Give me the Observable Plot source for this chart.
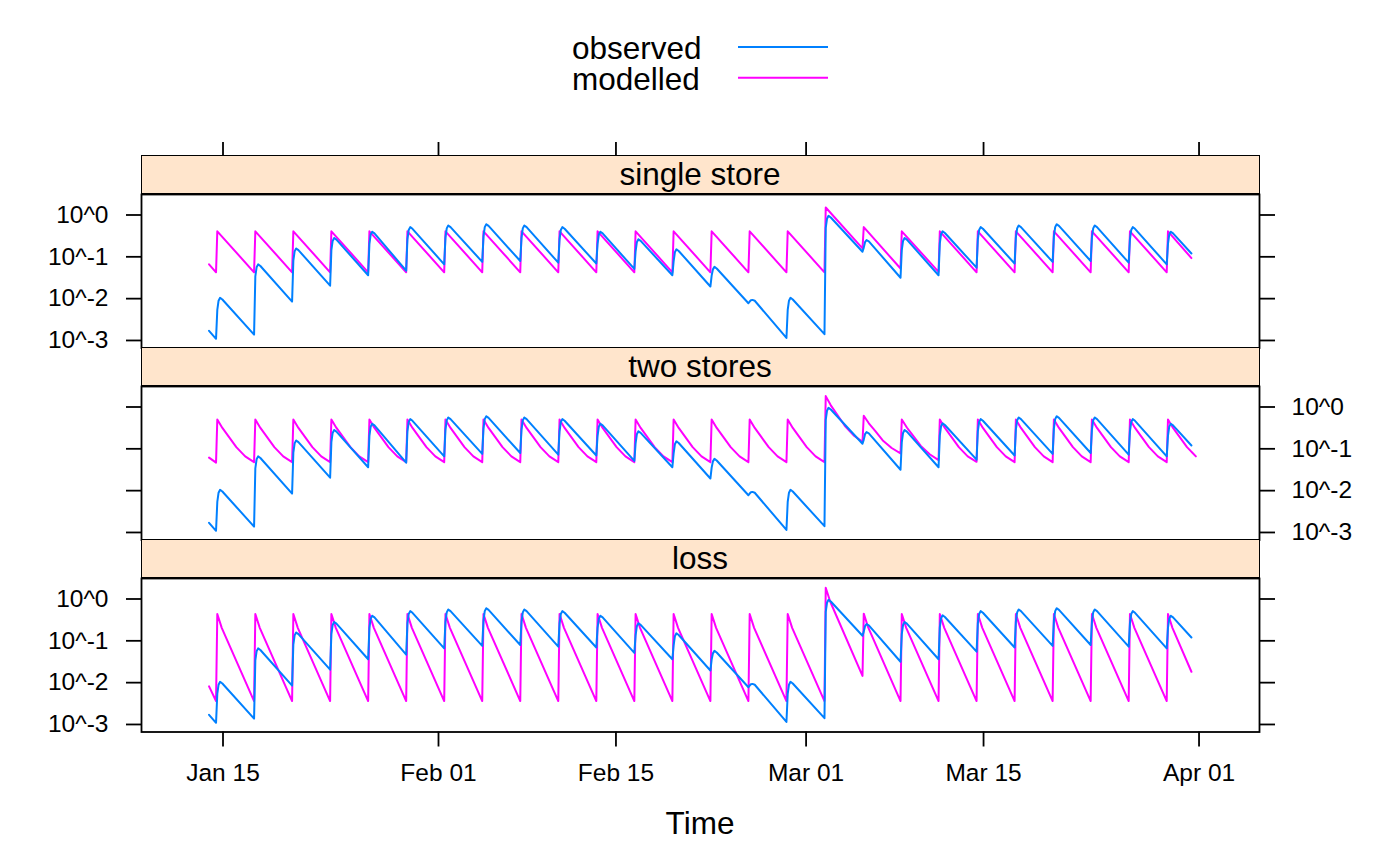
<!DOCTYPE html>
<html><head><meta charset="utf-8">
<script src="https://cdn.jsdelivr.net/npm/d3@7"></script>
<script src="https://cdn.jsdelivr.net/npm/@observablehq/plot@0.6"></script>
<style>
body{margin:0;background:#fff;}
#chart{position:relative;width:1400px;height:866px;overflow:hidden;font-family:"Liberation Sans",Arial,Helvetica,sans-serif;background:#fff;}
.strip{position:absolute;box-sizing:border-box;background:#ffe5cc;border:1.8px solid #000;display:flex;align-items:center;justify-content:center;font-size:31.5px;color:#000;}
</style></head><body><div id="chart"></div>
<script>
// ---------- data (values are log10 of the plotted quantity; times are days after 2004-01-01 00:00 UTC) ----------
const panelNames = ["single store", "two stores", "loss"];
const seriesNames = ["observed", "modelled"];
const seriesColors = ["#0080ff", "#ff00ff"];
const xTickDates = ["2004-01-15", "2004-02-01", "2004-02-15", "2004-03-01", "2004-03-15", "2004-04-01"];
const yTickExponents = [-3, -2, -1, 0];
const timeLabel = "Time";

// start of each 3-day cycle (time of the jump)
const cycleDays = [13.45, 16.45, 19.45, 22.45, 25.45, 28.45, 31.45, 34.45, 37.45, 40.45, 43.45, 46.45, 49.45,
  52.45, 55.45, 58.45, 61.45, 64.45, 67.45, 70.45, 73.45, 76.45, 79.45, 82.45, 85.45, 88.45];

// observed: within-cycle offsets (days) and log10 values per cycle
const observedOffsets = [0, 0.1, 0.2, 0.32, 0.5];
const observedStart = [12.9, -2.77];
const observedEnd = [90.4, -0.92];
const observedLog10 = [
  [-2.96, -2.27, -2.05, -1.98, -2.02],
  [-2.86, -1.47, -1.25, -1.18, -1.22],
  [-2.07, -1.09, -0.87, -0.80, -0.84],
  [-1.69, -0.84, -0.62, -0.55, -0.59],
  [-1.44, -0.69, -0.47, -0.40, -0.44],
  [-1.33, -0.58, -0.36, -0.29, -0.33],
  [-1.18, -0.54, -0.32, -0.25, -0.29],
  [-1.12, -0.51, -0.29, -0.22, -0.26],
  [-1.10, -0.54, -0.32, -0.25, -0.29],
  [-1.14, -0.58, -0.36, -0.29, -0.33],
  [-1.16, -0.69, -0.47, -0.40, -0.44],
  [-1.29, -0.87, -0.65, -0.58, -0.62],
  [-1.44, -1.11, -0.89, -0.82, -0.86],
  [-1.71, -1.45, -1.30, -1.24, -1.28],
  [-2.11, -2.07, -2.04, -2.03, -2.05],
  [-2.94, -2.27, -2.05, -1.98, -2.02],
  [-2.85, -0.31, -0.09, -0.02, -0.06],
  [-0.88, -0.78, -0.65, -0.60, -0.63],
  [-1.50, -0.84, -0.62, -0.55, -0.59],
  [-1.44, -0.68, -0.46, -0.39, -0.43],
  [-1.26, -0.58, -0.36, -0.29, -0.33],
  [-1.16, -0.54, -0.32, -0.25, -0.29],
  [-1.12, -0.51, -0.29, -0.22, -0.26],
  [-1.10, -0.54, -0.32, -0.25, -0.29],
  [-1.14, -0.58, -0.36, -0.29, -0.33],
  [-1.18, -0.69, -0.47, -0.40, -0.44]
];

// modelled, single store
const singleOffsets = [0, 0.1];
const singleStart = [12.9, -1.18];
const singleEnd = [90.4, -1.03];
const singleLog10 = [
  [-1.37, -0.39], [-1.37, -0.39], [-1.37, -0.39], [-1.37, -0.39], [-1.37, -0.39], [-1.37, -0.39],
  [-1.37, -0.39], [-1.37, -0.39], [-1.37, -0.39], [-1.37, -0.39], [-1.37, -0.39], [-1.37, -0.39],
  [-1.37, -0.39], [-1.37, -0.39], [-1.37, -0.39], [-1.37, -0.39],
  [-1.37, 0.18], [-0.80, -0.29], [-1.28, -0.39], [-1.36, -0.39],
  [-1.37, -0.39], [-1.37, -0.39], [-1.37, -0.39], [-1.37, -0.39], [-1.37, -0.39], [-1.37, -0.39]
];

// modelled, two stores
const twoOffsets = [0, 0.1, 0.5, 1.0, 1.6, 2.3];
const twoStart = [12.9, -1.21];
const twoEnd = [90.4, -1.07];
const twoLog10 = [
  [-1.33, -0.30, -0.50, -0.71, -0.96, -1.18],
  [-1.32, -0.30, -0.50, -0.71, -0.96, -1.18],
  [-1.32, -0.30, -0.50, -0.71, -0.96, -1.18],
  [-1.32, -0.30, -0.50, -0.71, -0.96, -1.18],
  [-1.32, -0.30, -0.50, -0.71, -0.96, -1.18],
  [-1.32, -0.30, -0.50, -0.71, -0.96, -1.18],
  [-1.32, -0.30, -0.50, -0.71, -0.96, -1.18],
  [-1.32, -0.30, -0.50, -0.71, -0.96, -1.18],
  [-1.32, -0.30, -0.50, -0.71, -0.96, -1.18],
  [-1.32, -0.30, -0.50, -0.71, -0.96, -1.18],
  [-1.32, -0.30, -0.50, -0.71, -0.96, -1.18],
  [-1.32, -0.30, -0.50, -0.71, -0.96, -1.18],
  [-1.32, -0.30, -0.50, -0.71, -0.96, -1.18],
  [-1.32, -0.30, -0.50, -0.71, -0.96, -1.18],
  [-1.32, -0.30, -0.50, -0.71, -0.96, -1.18],
  [-1.32, -0.30, -0.50, -0.71, -0.96, -1.18],
  [-1.32, 0.26, 0.04, -0.18, -0.45, -0.68],
  [-0.83, -0.21, -0.39, -0.57, -0.80, -0.98],
  [-1.11, -0.30, -0.49, -0.69, -0.93, -1.13],
  [-1.27, -0.30, -0.50, -0.71, -0.96, -1.18],
  [-1.31, -0.30, -0.50, -0.71, -0.96, -1.18],
  [-1.32, -0.30, -0.50, -0.71, -0.96, -1.18],
  [-1.32, -0.30, -0.50, -0.71, -0.96, -1.18],
  [-1.32, -0.30, -0.50, -0.71, -0.96, -1.18],
  [-1.32, -0.30, -0.50, -0.71, -0.96, -1.18],
  [-1.32, -0.30, -0.50, -0.71, -0.96, -1.18]
];

// modelled, loss
const lossOffsets = [0, 0.1, 0.45];
const lossStart = [12.9, -2.09];
const lossEnd = [90.4, -1.74];
const lossLog10 = [
  [-2.44, -0.36, -0.69], [-2.44, -0.36, -0.69], [-2.44, -0.36, -0.69], [-2.44, -0.36, -0.69],
  [-2.44, -0.36, -0.69], [-2.44, -0.36, -0.69], [-2.44, -0.36, -0.69], [-2.44, -0.36, -0.69],
  [-2.44, -0.36, -0.69], [-2.44, -0.36, -0.69], [-2.44, -0.36, -0.69], [-2.44, -0.36, -0.69],
  [-2.44, -0.36, -0.69], [-2.44, -0.36, -0.69], [-2.44, -0.36, -0.69], [-2.44, -0.36, -0.69],
  [-2.44, 0.27, -0.06], [-1.84, -0.35, -0.68],
  [-2.44, -0.36, -0.69], [-2.44, -0.36, -0.69], [-2.44, -0.36, -0.69], [-2.44, -0.36, -0.69],
  [-2.44, -0.36, -0.69], [-2.44, -0.36, -0.69], [-2.44, -0.36, -0.69], [-2.44, -0.36, -0.69]
];

// ---------- assembly ----------
const DAY = 864e5, T0 = Date.UTC(2004, 0, 1);
const toDate = t => new Date(T0 + t * DAY);
function series(offsets, rows, start, end) {
  const pts = [[start[0], start[1]]];
  rows.forEach((row, k) => row.forEach((v, j) => pts.push([cycleDays[k] + offsets[j], v])));
  pts.push([end[0], end[1]]);
  return pts.map(([t, v]) => ({date: toDate(t), value: Math.pow(10, v)}));
}
const observed = series(observedOffsets, observedLog10, observedStart, observedEnd);
const modelled = [
  series(singleOffsets, singleLog10, singleStart, singleEnd),
  series(twoOffsets, twoLog10, twoStart, twoEnd),
  series(lossOffsets, lossLog10, lossStart, lossEnd)
];

const xDomain = [toDate(14 - 6.43), toDate(91 + 4.77)];
const yDomain = [Math.pow(10, -3.18), Math.pow(10, 0.49)];
const xTicks = xTickDates.map(s => new Date(s + "T00:00:00Z"));
const yTicks = yTickExponents.map(e => Math.pow(10, e));
const yFmt = d => "10^" + Math.round(Math.log10(d));
const FONT = '"Liberation Sans", Arial, Helvetica, sans-serif';

const chart = document.getElementById("chart");

// legend (above the panels)
const leg = d3.create("svg").attr("width", 1400).attr("height", 110)
  .style("position", "absolute").style("left", "0px").style("top", "0px")
  .style("font-family", FONT);
seriesNames.forEach((name, i) => {
  leg.append("text").attr("x", 572).attr("y", 59.3 + i * 30.7).attr("font-size", 31.5).attr("fill", "#000").text(name);
  leg.append("line").attr("x1", 738).attr("x2", 828).attr("y1", 47 + i * 30.7).attr("y2", 47 + i * 30.7)
    .attr("stroke", seriesColors[i]).attr("stroke-width", 2);
});
chart.appendChild(leg.node());

const PW = 153.5, SH = 38.5;
panelNames.forEach((name, i) => {
  const S = 155 + 192 * i, T = S + SH;
  const mt = i === 0 ? 73 : 10, mb = i === 2 ? 60 : 10;
  const marks = [
    Plot.frame({stroke: "#000", strokeWidth: 1.8}),
    Plot.line(modelled[i], {x: "date", y: "value", stroke: seriesColors[1], strokeWidth: 2}),
    Plot.line(observed, {x: "date", y: "value", stroke: seriesColors[0], strokeWidth: 2}),
    // y axes: labels alternate left / right
    Plot.axisY({anchor: "left", ticks: yTicks, tickFormat: i === 1 ? () => "" : yFmt, tickSize: 15, tickPadding: 18,
      fontSize: 24.5, strokeWidth: 1.8, label: null}),
    Plot.axisY({anchor: "right", ticks: yTicks, tickFormat: i === 1 ? yFmt : () => "", tickSize: 15, tickPadding: 17,
      fontSize: 24.5, strokeWidth: 1.8, label: null})
  ];
  if (i === 0) marks.push(Plot.axisX({anchor: "top", ticks: xTicks, tickFormat: () => "", tickSize: 53, strokeWidth: 1.8, label: null}));
  if (i === 2) marks.push(Plot.axisX({anchor: "bottom", ticks: xTicks, tickFormat: d3.utcFormat("%b %d"), tickSize: 15,
    tickPadding: 16.5, fontSize: 24.5, strokeWidth: 1.8, label: null}));
  const svg = Plot.plot({
    width: 1400, height: mt + PW + mb,
    marginTop: mt, marginBottom: mb, marginLeft: 141, marginRight: 141,
    x: {type: "utc", domain: xDomain, axis: (i === 1 ? null : undefined)},
    y: {type: "log", domain: yDomain},
    style: {position: "absolute", left: "0px", top: (T - mt) + "px", background: "transparent",
      fontFamily: FONT, fontSize: "24.5px", color: "#000", overflow: "visible"},
    marks
  });
  chart.appendChild(svg);
  const strip = document.createElement("div");
  strip.className = "strip";
  Object.assign(strip.style, {left: "140.5px", top: S + "px", width: "1119px", height: (SH + 0.9) + "px"});
  strip.textContent = name;
  chart.appendChild(strip);
});

// x-axis title
const ttl = d3.create("svg").attr("width", 1400).attr("height", 66)
  .style("position", "absolute").style("left", "0px").style("top", "800px").style("font-family", FONT);
ttl.append("text").attr("x", 700).attr("y", 34).attr("text-anchor", "middle").attr("font-size", 31.5).attr("fill", "#000").text(timeLabel);
chart.appendChild(ttl.node());
</script></body></html>
